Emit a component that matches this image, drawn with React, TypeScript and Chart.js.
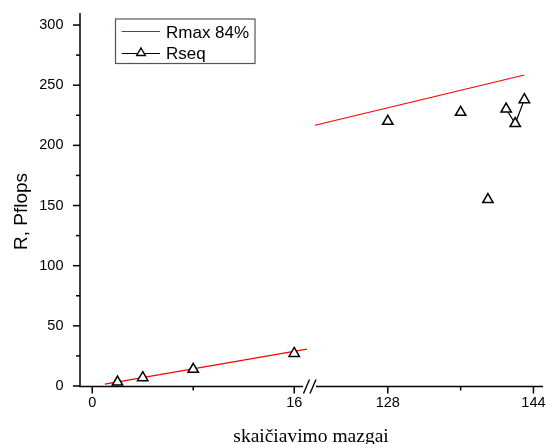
import React, { useEffect, useRef } from 'react';
import { Chart, registerables } from 'chart.js';

Chart.register(...registerables);

// ---- data ----
const leftNodes = [2, 4, 8, 16];
const leftRseq = [3.3, 6.9, 13.9, 27.1];
const rightNodes = [128, 136, 139, 141, 142, 143];
const rightRseq = [220.0, 227.5, 155.0, 230.2, 218.1, 238.0];
const rmaxLeftNodes = [1, 17];
const rmaxLeftValues = [1.5, 30.7];
const rmaxRightNodes = [120, 143];
const rmaxRightValues = [216.7, 258.5];

const yTickValues = [0, 50, 100, 150, 200, 250, 300];
const yMinorValues = [25, 75, 125, 175, 225, 275];
const leftXTicks = [0, 16];
const leftXMinor = [8];
const rightXTicks = [128, 144];
const rightXMinor = [136];

const legendLabels = ['Rmax 84%', 'Rseq'];
const yTitle = 'R, Pflops';
const xTitle = 'skaičiavimo mazgai';

const SANS = '"Liberation Sans", Arial, sans-serif';
const SERIF = '"Liberation Serif", "Times New Roman", serif';
const W = 546;
const H = 444;

function pts(xs: number[], ys: number[]) {
  return xs.map((x, i) => ({ x, y: ys[i] }));
}

function seg(ctx: any) {
  return ctx.p1.parsed.x - ctx.p0.parsed.x === 1 ? '#000' : 'rgba(0,0,0,0)';
}

function line(ctx: CanvasRenderingContext2D, x1: number, y1: number, x2: number, y2: number) {
  ctx.beginPath();
  ctx.moveTo(x1, y1);
  ctx.lineTo(x2, y2);
  ctx.stroke();
}

function drawXTicks(ctx: CanvasRenderingContext2D, x: any, B: number, major: number[], minor: number[]) {
  for (const v of major) {
    const px = x.getPixelForValue(v);
    line(ctx, px, B, px, B + 7);
  }
  for (const v of minor) {
    const px = x.getPixelForValue(v);
    line(ctx, px, B, px, B + 4);
  }
}

const leftDecor = {
  id: 'leftDecor',
  afterDraw(chart: any) {
    const { ctx, chartArea, scales } = chart;
    const x = scales.x;
    const y = scales.y;
    const L = chartArea.left;
    const B = y.getPixelForValue(0) + 0.5;
    ctx.save();
    ctx.strokeStyle = '#000';
    ctx.lineWidth = 1.5;
    // axes
    line(ctx, L, chartArea.top, L, B + 0.75);
    line(ctx, L, B, chartArea.right - 6, B);
    // y ticks
    for (const v of yTickValues) {
      const py = y.getPixelForValue(v);
      line(ctx, L - 7, py, L, py);
    }
    for (const v of yMinorValues) {
      const py = y.getPixelForValue(v);
      line(ctx, L - 4, py, L, py);
    }
    drawXTicks(ctx, x, B, leftXTicks, leftXMinor);

    // y title
    ctx.fillStyle = '#000';
    ctx.save();
    ctx.font = `19px ${SANS}`;
    ctx.translate(26.9, (chartArea.top + chartArea.bottom) / 2 + 12);
    ctx.rotate(-Math.PI / 2);
    ctx.textAlign = 'center';
    ctx.textBaseline = 'alphabetic';
    ctx.fillText(yTitle, 0, 0);
    ctx.restore();

    // x title
    ctx.font = `19.5px ${SERIF}`;
    ctx.textAlign = 'center';
    ctx.textBaseline = 'alphabetic';
    ctx.fillText(xTitle, 311, 441.5);

    // legend
    ctx.strokeStyle = '#555';
    ctx.lineWidth = 1.2;
    ctx.strokeRect(115.5, 19, 139.5, 44.5);
    ctx.strokeStyle = '#ff0000';
    ctx.lineWidth = 1.2;
    line(ctx, 121.7, 31.5, 160, 31.5);
    ctx.strokeStyle = '#000';
    line(ctx, 121.7, 53.5, 160, 53.5);
    // triangle marker
    const tx = 141, ty = 53, r = 5;
    ctx.beginPath();
    for (let k = 0; k < 3; k++) {
      const a = (k * 2 * Math.PI) / 3;
      const px = tx + Math.sin(a) * r;
      const py = ty - Math.cos(a) * r;
      if (k === 0) ctx.moveTo(px, py); else ctx.lineTo(px, py);
    }
    ctx.closePath();
    ctx.fillStyle = '#fff';
    ctx.fill();
    ctx.lineWidth = 1.4;
    ctx.stroke();
    ctx.fillStyle = '#000';
    ctx.font = `17px ${SANS}`;
    ctx.textAlign = 'left';
    ctx.fillText(legendLabels[0], 166, 37.5);
    ctx.fillText(legendLabels[1], 166, 59);
    ctx.restore();
  },
};

const rightDecor = {
  id: 'rightDecor',
  afterDraw(chart: any) {
    const { ctx, chartArea, scales } = chart;
    const x = scales.x;
    const y = scales.y;
    const L = chartArea.left;
    const B = y.getPixelForValue(0) + 0.5;
    ctx.save();
    ctx.strokeStyle = '#000';
    ctx.lineWidth = 1.5;
    line(ctx, L + 1, B, chartArea.right, B);
    drawXTicks(ctx, x, B, rightXTicks, rightXMinor);
    // axis break marks
    ctx.lineWidth = 1.4;
    line(ctx, L - 11.5, B + 7, L - 5.5, B - 7);
    line(ctx, L - 5, B + 7, L + 1, B - 7);
    ctx.restore();
  },
};

function tickFont() {
  return { family: SANS, size: 14.5 };
}

function noPad(s: any) {
  s.paddingLeft = 0;
  s.paddingRight = 0;
  s.paddingTop = 0;
  s.paddingBottom = 0;
}

function makeConfig(side: 'left' | 'right'): any {
  const isLeft = side === 'left';
  const rmax = isLeft ? pts(rmaxLeftNodes, rmaxLeftValues) : pts(rmaxRightNodes, rmaxRightValues);
  const rseq = isLeft ? pts(leftNodes, leftRseq) : pts(rightNodes, rightRseq);
  const xTicks = isLeft ? leftXTicks : rightXTicks;
  return {
    type: 'line',
    data: {
      datasets: [
        {
          label: legendLabels[0],
          data: rmax,
          borderColor: '#ff0000',
          borderWidth: 1.2,
          pointRadius: 0,
          order: 2,
          clip: false,
        },
        {
          label: legendLabels[1],
          data: rseq,
          borderColor: '#000',
          borderWidth: 1.2,
          pointStyle: 'triangle',
          pointRadius: 6,
          pointBorderWidth: 1.5,
          pointBackgroundColor: '#fff',
          pointBorderColor: '#000',
          segment: { borderColor: seg },
          order: 1,
          clip: false,
        },
      ],
    },
    options: {
      responsive: false,
      animation: false,
      events: [],
      layout: {
        autoPadding: false,
        padding: isLeft
          ? { left: 0, right: W - 309, top: 13, bottom: 0 }
          : { left: 315, right: 3, top: 13, bottom: 0 },
      },
      plugins: { legend: { display: false }, tooltip: { enabled: false } },
      scales: {
        x: {
          type: 'linear',
          min: isLeft ? -0.97 : 120,
          max: isLeft ? 17.17 : 145.05,
          afterFit: (s: any) => {
            s.height = H - 386;
            noPad(s);
          },
          afterBuildTicks: (s: any) => {
            s.ticks = xTicks.map((v) => ({ value: v }));
          },
          grid: { display: false, drawTicks: false, tickLength: 0 },
          border: { display: false },
          ticks: {
            padding: 8,
            color: '#000',
            font: tickFont(),
            autoSkip: false,
            maxRotation: 0,
            callback: (v: any) => String(v),
          },
        },
        y: {
          type: 'linear',
          display: isLeft,
          min: 0,
          max: 310,
          afterFit: (s: any) => {
            s.width = isLeft ? 80 : 0;
            noPad(s);
          },
          afterBuildTicks: (s: any) => {
            s.ticks = yTickValues.map((v) => ({ value: v }));
          },
          grid: { display: false, drawTicks: false, tickLength: 0 },
          border: { display: false },
          ticks: {
            padding: 16.5,
            color: '#000',
            font: tickFont(),
            autoSkip: false,
            callback: (v: any) => String(v),
          },
        },
      },
    },
    plugins: [isLeft ? leftDecor : rightDecor],
  };
}

export default function App() {
  const leftRef = useRef<HTMLCanvasElement | null>(null);
  const rightRef = useRef<HTMLCanvasElement | null>(null);

  useEffect(() => {
    const a = new Chart(leftRef.current as HTMLCanvasElement, makeConfig('left'));
    const b = new Chart(rightRef.current as HTMLCanvasElement, makeConfig('right'));
    return () => {
      a.destroy();
      b.destroy();
    };
  }, []);

  const cs: React.CSSProperties = { position: 'absolute', left: 0, top: 0, display: 'block' };
  return (
    <div style={{ position: 'fixed', left: 0, top: 0, width: W, height: H, background: '#fff' }}>
      <canvas ref={leftRef} width={W} height={H} style={cs} />
      <canvas ref={rightRef} width={W} height={H} style={cs} />
    </div>
  );
}
